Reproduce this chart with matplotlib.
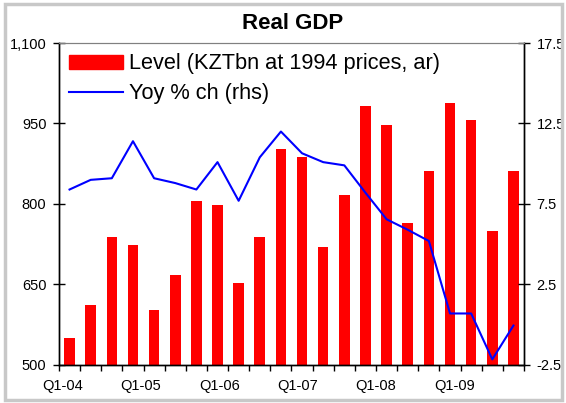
import numpy as np
import matplotlib.pyplot as plt
from matplotlib.patches import Rectangle, Patch
from matplotlib.lines import Line2D
from matplotlib.ticker import FuncFormatter

plt.rcParams['font.family'] = ['Liberation Sans', 'DejaVu Sans']

# quarterly data, Q1-04 .. Q2-09
quarters = [f"Q{q}-{y:02d}" for y in range(4, 10) for q in range(1, 5)][:22]
level = [551, 611, 738, 723, 603, 667, 806, 798, 652, 738, 903, 888,
         719, 817, 982, 948, 764, 862, 989, 956, 749, 862]
yoy = [8.4, 9.0, 9.1, 11.4, 9.1, 8.8, 8.4, 10.1, 7.7, 10.4, 12.0, 10.65,
       10.1, 9.9, 8.2, 6.55, 5.9, 5.2, 0.7, 0.7, -2.15, -0.05]
year_labels = ["Q1-04", "Q1-05", "Q1-06", "Q1-07", "Q1-08", "Q1-09"]

fig = plt.figure(figsize=(5.66, 4.03), dpi=100)
ax = fig.add_axes([0.1042, 0.0943, 0.8216, 0.799])
ax2 = ax.twinx()

x = np.arange(len(level))
ax.bar(x, level, width=0.5, color='#FF0000', zorder=2)
ax2.plot(x, yoy, color='#0000FF', lw=1.5)

ax.set_xlim(-0.5, len(level) - 0.5)
ax.set_ylim(500, 1100)
ax.set_yticks([500, 650, 800, 950, 1100])
ax.yaxis.set_major_formatter(FuncFormatter(lambda v, p: f"{v:,.0f}"))
ax2.set_ylim(-2.5, 17.5)
ax2.set_yticks([-2.5, 2.5, 7.5, 12.5, 17.5])
ax2.yaxis.set_major_formatter(FuncFormatter(lambda v, p: f"{v:.1f}"))

# category boundary ticks, year labels spread along the axis
ax.set_xticks(np.arange(-0.5, len(level), 1))
ax.set_xticklabels([])
ax.set_xticks(np.linspace(-0.33, 18.2, len(year_labels)), minor=True)
ax.set_xticklabels(year_labels, minor=True)
ax.tick_params(axis='x', which='major', direction='out', length=4, width=1)
ax.tick_params(axis='x', which='minor', length=0, pad=10, labelsize=10.5)
ax.tick_params(axis='y', direction='inout', length=8, width=1, pad=5, labelsize=10.5)
ax2.tick_params(axis='y', direction='inout', length=8, width=1, pad=5, labelsize=10.5)

for a in (ax, ax2):
    a.spines['top'].set_color('#808080')
    for s in ('left', 'right', 'bottom'):
        a.spines[s].set_color('black')
        a.spines[s].set_linewidth(1)

handles = [Patch(color='#FF0000'), Line2D([], [], color='#0000FF', lw=1.5)]
labels = ["Level (KZTbn at 1994 prices, ar)", "Yoy % ch (rhs)"]
ax2.legend(handles, labels, loc='upper left', bbox_to_anchor=(0.0215, 0.968),
           frameon=False, fontsize=15.7, handlelength=2.48, handleheight=0.6,
           handletextpad=0.28, labelspacing=0.42, borderpad=0, borderaxespad=0)

fig.text(0.517, 0.942, "Real GDP", ha='center', va='center',
         fontsize=16, fontweight='bold')

fig.patches.append(Rectangle((0.008, 0.008), 0.985, 0.982, transform=fig.transFigure,
                             fill=False, edgecolor='#C8C8C8', lw=2.5))

fig.savefig('out.png', dpi=100)
